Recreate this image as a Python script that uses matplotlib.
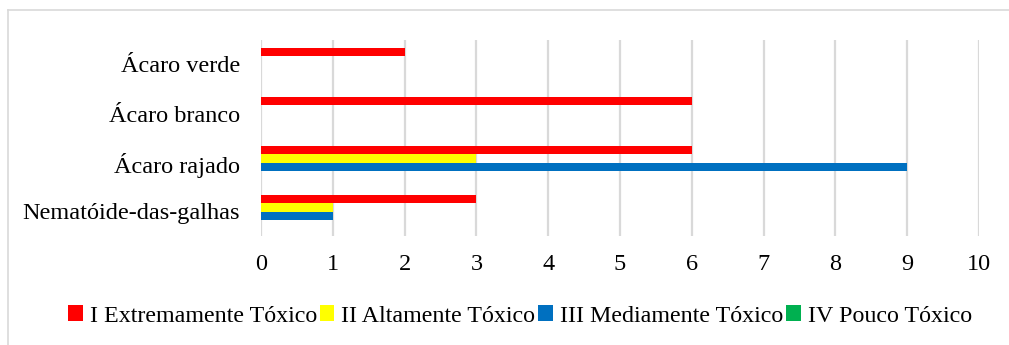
import matplotlib.pyplot as plt
import matplotlib.lines as mlines
import numpy as np

categories = ["Nematóide-das-galhas", "Ácaro rajado", "Ácaro branco", "Ácaro verde"]
series_names = ["I Extremamente Tóxico", "II Altamente Tóxico",
                "III Mediamente Tóxico", "IV Pouco Tóxico"]
series_colors = ["#FF0000", "#FFFF00", "#0070C0", "#00B050"]
classe_I = [3, 6, 6, 2]
classe_II = [1, 3, 0, 0]
classe_III = [1, 9, 0, 0]
classe_IV = [0, 0, 0, 0]
x_ticks = list(range(0, 11))

plt.rcParams['font.family'] = ['Liberation Serif', 'DejaVu Serif']

fig = plt.figure(figsize=(10.09, 3.45), dpi=100)
ax = fig.add_axes([261 / 1009, 1 - 236 / 345, (979 - 261) / 1009, (236 - 40) / 345])

values = [classe_I, classe_II, classe_III, classe_IV]
h = 1 / 6
offsets = [1.5 * h, 0.5 * h, -0.5 * h, -1.5 * h]
y = np.arange(len(categories))
for vals, off, col, name in zip(values, offsets, series_colors, series_names):
    ax.barh(y + off, vals, height=h, color=col, label=name, zorder=3)

ax.set_xlim(0, 10)
ax.set_ylim(-0.5, len(categories) - 0.5)
ax.set_xticks(x_ticks)
ax.set_yticks(y)
ax.set_yticklabels(categories, va='top')
for lbl in ax.get_yticklabels():
    lbl.set_verticalalignment('center_baseline')
ax.grid(axis='x', color='#D9D9D9', linewidth=1.6, zorder=0)
for s in ax.spines.values():
    s.set_visible(False)
ax.tick_params(axis='both', length=0, labelsize=17.5, colors='black')
ax.tick_params(axis='x', pad=13)
ax.tick_params(axis='y', pad=15)

handles, labels = ax.get_legend_handles_labels()
leg = fig.legend(handles, labels, loc='center', bbox_to_anchor=(520 / 1009, 1 - 316 / 345),
                 ncol=4, frameon=False, fontsize=17.3, handlelength=0.6, handleheight=0.6,
                 handletextpad=0.3, columnspacing=0.12, borderpad=0)

# light frame around the chart area
fig.add_artist(mlines.Line2D([7.5 / 1009, 7.5 / 1009], [0, 1 - 10 / 345],
                             transform=fig.transFigure, color='#D9D9D9', linewidth=1.2))
fig.add_artist(mlines.Line2D([7.5 / 1009, 1], [1 - 10 / 345, 1 - 10 / 345],
                             transform=fig.transFigure, color='#D9D9D9', linewidth=1.2))

fig.savefig('out.png', dpi=100)
